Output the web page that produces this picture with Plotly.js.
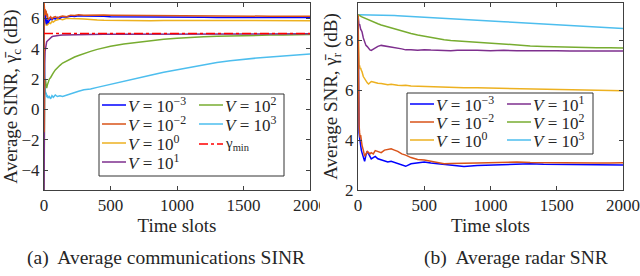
<!DOCTYPE html>
<html>
<head>
<meta charset="utf-8">
<script src="https://cdn.plot.ly/plotly-3.0.1.min.js"></script>
<style>html,body{margin:0;padding:0;background:#fff;}#chart{width:640px;height:276px;}</style>
</head>
<body>
<div id="chart"></div>
<script>
// ---------- data: (a) average communications SINR (dB) ----------
const tSinr = [0,1,3,5,8,12,16,20,25,30,40,50,60,70,85,100,120,140,170,200,230,260,300,350,400,450,500,600,700,800,900,1000,1100,1200,1300,1400,1500,1600,1700,1800,1900,2000];
const sinrVm3 = [4.0,6.6,6.3,6.0,5.8,6.2,5.7,5.6,5.9,5.7,5.85,5.95,5.9,6.0,5.95,6.05,6.0,6.1,6.08,6.15,6.12,6.16,6.14,6.15,6.12,6.13,6.1,6.1,6.08,6.1,6.07,6.08,6.06,6.07,6.05,6.06,6.05,6.05,6.04,6.05,6.04,6.04];
const sinrVm2 = [-1.5,7.0,6.8,6.4,6.6,6.2,6.5,6.1,6.3,5.9,6.0,6.1,5.95,6.05,6.1,6.0,6.1,6.15,6.1,6.2,6.18,6.22,6.2,6.22,6.2,6.21,6.2,6.19,6.18,6.17,6.16,6.16,6.15,6.15,6.14,6.14,6.14,6.13,6.13,6.13,6.13,6.13];
const sinrV0 = [3.8,6.5,6.0,5.5,6.1,5.7,5.9,5.5,5.7,5.6,5.7,5.65,5.8,5.75,5.85,5.9,5.95,5.9,6.0,5.98,5.95,5.97,5.95,5.9,5.88,5.86,5.85,5.83,5.82,5.84,5.85,5.86,5.86,5.86,5.86,5.85,5.85,5.85,5.85,5.84,5.84,5.84];
const sinrV1 = [-6,0.5,2.5,3.0,3.8,4.2,4.35,4.45,4.5,4.55,4.65,4.72,4.78,4.82,4.85,4.87,4.88,4.89,4.9,4.91,4.91,4.92,4.93,4.93,4.94,4.95,4.95,4.95,4.96,4.96,4.96,4.97,4.97,4.97,4.97,4.97,4.97,4.97,4.97,4.97,4.97,4.97];
const sinrV2 = [-6,-2,0.5,1.5,2.0,1.9,1.6,1.4,1.6,1.8,2.0,2.1,2.3,2.4,2.6,2.75,2.9,3.05,3.2,3.35,3.45,3.55,3.68,3.82,3.95,4.07,4.15,4.3,4.42,4.53,4.62,4.68,4.74,4.78,4.81,4.84,4.86,4.88,4.89,4.9,4.91,4.92];
const sinrV3 = [-2,2.0,3.8,2.5,1.5,1.0,1.1,0.8,0.95,0.75,0.85,0.7,0.9,0.8,0.95,0.85,0.9,0.85,0.95,1.05,1.1,1.2,1.3,1.35,1.45,1.55,1.6,1.8,2.0,2.25,2.45,2.62,2.78,2.92,3.08,3.2,3.3,3.38,3.45,3.52,3.58,3.65];
const tGamma = [0,2000];
const gammaMin = [5,5];

// ---------- data: (b) average radar SNR (dB) ----------
const tSnr = [0,2,5,8,12,16,20,25,30,40,50,60,70,80,90,100,115,130,150,175,200,225,250,275,300,330,360,400,450,500,550,600,650,700,750,800,900,1000,1100,1200,1300,1400,1500,1600,1700,1800,1900,2000];
const snrVm3 = [8.8,6.0,4.6,4.3,4.1,3.85,3.7,3.6,3.5,3.3,3.15,3.4,3.55,3.45,3.35,3.25,3.3,3.35,3.25,3.2,3.18,3.12,3.15,3.1,3.08,3.0,2.95,3.05,3.1,3.12,3.08,3.05,3.02,3.0,2.95,2.94,2.98,3.0,3.02,3.06,3.05,3.03,3.02,3.02,3.01,3.0,3.0,3.0];
const snrVm2 = [9.0,6.5,5.0,4.6,4.3,4.1,4.2,3.9,3.8,3.6,3.35,3.45,3.55,3.5,3.45,3.5,3.45,3.58,3.55,3.5,3.6,3.62,3.65,3.6,3.55,3.45,3.4,3.3,3.22,3.2,3.15,3.1,3.05,3.06,3.05,3.07,3.08,3.1,3.1,3.12,3.1,3.09,3.09,3.08,3.09,3.08,3.08,3.09];
const snrV0 = [9.03,8.0,7.2,6.95,7.0,6.85,6.9,6.8,6.75,6.55,6.45,6.38,6.3,6.25,6.32,6.35,6.33,6.3,6.28,6.27,6.25,6.22,6.24,6.21,6.2,6.19,6.2,6.17,6.16,6.17,6.14,6.13,6.12,6.1,6.11,6.1,6.1,6.09,6.08,6.08,6.06,6.06,6.05,6.04,6.03,6.02,6.0,5.98];
const snrV1 = [9.03,8.9,8.75,8.6,8.65,8.5,8.45,8.4,8.35,8.1,7.95,7.8,7.75,7.68,7.62,7.6,7.65,7.72,7.76,7.8,7.78,7.75,7.74,7.7,7.68,7.66,7.62,7.63,7.6,7.63,7.61,7.6,7.62,7.58,7.6,7.59,7.6,7.58,7.6,7.58,7.59,7.57,7.58,7.57,7.58,7.57,7.57,7.57];
const snrV2 = [9.03,9.02,9.02,9.0,9.0,8.98,8.97,8.95,8.94,8.92,8.9,8.87,8.84,8.82,8.8,8.77,8.74,8.71,8.67,8.62,8.58,8.53,8.49,8.45,8.42,8.37,8.33,8.28,8.22,8.17,8.12,8.07,8.03,8.0,7.98,7.96,7.92,7.88,7.84,7.81,7.78,7.76,7.74,7.73,7.72,7.71,7.71,7.7];
const snrV3 = [9.03,9.03,9.03,9.03,9.03,9.03,9.03,9.03,9.03,9.03,9.03,9.03,9.03,9.03,9.03,9.02,9.02,9.02,9.02,9.01,9.01,9.0,9.0,9.0,8.99,8.98,8.97,8.96,8.95,8.93,8.92,8.9,8.89,8.87,8.86,8.84,8.81,8.78,8.75,8.72,8.69,8.66,8.63,8.6,8.57,8.54,8.51,8.48];

// ---------- labels ----------
const names = ['<i>V</i> = 10<sup>−3</sup>','<i>V</i> = 10<sup>−2</sup>','<i>V</i> = 10<sup>0</sup>','<i>V</i> = 10<sup>1</sup>','<i>V</i> = 10<sup>2</sup>','<i>V</i> = 10<sup>3</sup>'];
const gammaName = 'γ<sub>min</sub>';
const xTicks = [0,500,1000,1500,2000];
const colors = ['#0000FF','#D95319','#EDB120','#7E2F8E','#77AC30','#4DBEEE'];
const gammaColor = '#FF0000';

const serif = "'Liberation Serif', 'DejaVu Serif', serif";
const textColor = '#262626';
const lw = 1.5;

const sinrSeries = [sinrVm3, sinrVm2, sinrV0, sinrV1, sinrV2, sinrV3];
const snrSeries = [snrVm3, snrVm2, snrV0, snrV1, snrV2, snrV3];

const traces = [];
const order = [5,4,3,2,0,1];
order.forEach(i => {
  traces.push({x: tSinr, y: sinrSeries[i], type: 'scatter', mode: 'lines', name: names[i], showlegend: false,
    line: {color: colors[i], width: lw}, xaxis: 'x', yaxis: 'y'});
});
traces.push({x: tGamma, y: gammaMin, type: 'scatter', mode: 'lines', name: gammaName, showlegend: false,
  line: {color: gammaColor, width: lw, dash: 'dashdot'}, xaxis: 'x', yaxis: 'y'});
order.forEach(i => {
  traces.push({x: tSnr, y: snrSeries[i], type: 'scatter', mode: 'lines', name: names[i], showlegend: false,
    line: {color: colors[i], width: lw}, xaxis: 'x2', yaxis: 'y2'});
});

const W = 640, H = 276, mL = 44, mR = 17, mT = 3, mB = 86;
const pw = W - mL - mR, ph = H - mT - mB;
const px = v => (v - mL) / pw;
const py = v => 1 - (v - mT) / ph;

const axCommon = {
  showline: true, linecolor: '#404040', linewidth: 1, mirror: 'ticks',
  ticks: 'inside', ticklen: 4, tickcolor: '#404040', tickwidth: 1,
  showgrid: false, zeroline: false,
  tickfont: {family: serif, size: 17, color: textColor}
};

// ---------- legend boxes (drawn with shapes + annotations) ----------
const shapes = [];
const annotations = [];
function legendBox(x0, x1, y0, y1) {
  shapes.push({type: 'rect', xref: 'paper', yref: 'paper', x0: px(x0), x1: px(x1), y0: py(y1), y1: py(y0),
    fillcolor: '#fff', line: {color: '#333', width: 1}, layer: 'above'});
}
function legendItem(xl, yc, color, dash, label, size) {
  shapes.push({type: 'line', xref: 'paper', yref: 'paper', x0: px(xl), x1: px(xl + 24), y0: py(yc), y1: py(yc),
    line: {color: color, width: lw, dash: dash}, layer: 'above'});
  annotations.push({text: label, xref: 'paper', yref: 'paper', x: px(xl + 25), y: py(yc), xanchor: 'left', yanchor: 'middle',
    showarrow: false, font: {family: serif, size: size || 17, color: textColor}, borderpad: 0});
}
legendBox(99, 284, 94, 176);
const leftRows = [105, 124, 143, 162];
legendItem(102, leftRows[0], colors[0], 'solid', names[0]);
legendItem(102, leftRows[1], colors[1], 'solid', names[1]);
legendItem(102, leftRows[2], colors[2], 'solid', names[2]);
legendItem(102, leftRows[3], colors[3], 'solid', names[3]);
legendItem(199, leftRows[0], colors[4], 'solid', names[4]);
legendItem(199, leftRows[1], colors[5], 'solid', names[5]);
legendItem(199, leftRows[2] + 1, gammaColor, 'dashdot', gammaName, 15);

legendBox(407, 593, 93, 154);
const rightRows = [104, 122, 140];
legendItem(410, rightRows[0], colors[0], 'solid', names[0]);
legendItem(410, rightRows[1], colors[1], 'solid', names[1]);
legendItem(410, rightRows[2], colors[2], 'solid', names[2]);
legendItem(507, rightRows[0], colors[3], 'solid', names[3]);
legendItem(507, rightRows[1], colors[4], 'solid', names[4]);
legendItem(507, rightRows[2], colors[5], 'solid', names[5]);

// mask for the cropped last tick label of panel (a)
shapes.push({type: 'rect', xref: 'paper', yref: 'paper', x0: px(320), x1: px(342), y0: py(218), y1: py(195),
  fillcolor: '#fff', line: {width: 0}, layer: 'above'});

annotations.push({text: '(a)  Average communications SINR', xref: 'paper', yref: 'paper', x: px(166), y: py(258),
  xanchor: 'center', yanchor: 'middle', showarrow: false, font: {family: serif, size: 19.5, color: textColor}});
annotations.push({text: '(b)  Average radar SNR', xref: 'paper', yref: 'paper', x: px(516), y: py(258),
  xanchor: 'center', yanchor: 'middle', showarrow: false, font: {family: serif, size: 19.5, color: textColor}});

const layout = {
  width: W, height: H,
  margin: {l: mL, r: mR, t: mT, b: mB},
  paper_bgcolor: '#fff', plot_bgcolor: '#fff',
  showlegend: false,
  font: {family: serif, color: textColor},
  xaxis: Object.assign({}, axCommon, {domain: [0, px(310)], range: [0, 2000], tickvals: xTicks, anchor: 'y',
    title: {text: 'Time slots', font: {family: serif, size: 19, color: textColor}, standoff: 2}}),
  yaxis: Object.assign({}, axCommon, {domain: [0, 1], range: [-5.3, 7], tickvals: [-4,-2,0,2,4,6], anchor: 'x',
    title: {text: 'Average SINR, γ\u0304<sub>c</sub> (dB)', font: {family: serif, size: 19, color: textColor}, standoff: 2}}),
  xaxis2: Object.assign({}, axCommon, {domain: [px(358), 1], range: [0, 2000], tickvals: xTicks, anchor: 'y2',
    title: {text: 'Time slots', font: {family: serif, size: 19, color: textColor}, standoff: 2}}),
  yaxis2: Object.assign({}, axCommon, {domain: [0, 1], range: [2, 9.5], tickvals: [2,4,6,8], anchor: 'x2',
    title: {text: 'Average SNR, γ\u0304<sub>r</sub> (dB)', font: {family: serif, size: 19, color: textColor}, standoff: 2}}),
  shapes: shapes,
  annotations: annotations
};

Plotly.newPlot('chart', traces, layout, {staticPlot: true, displayModeBar: false});
</script>
</body>
</html>
